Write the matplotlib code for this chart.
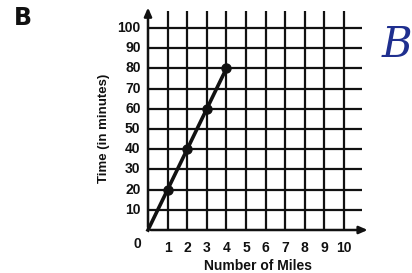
import matplotlib
matplotlib.use("Agg")
import matplotlib.pyplot as plt

miles = [0, 1, 2, 3, 4]
minutes = [0, 20, 40, 60, 80]
x_ticks = [1, 2, 3, 4, 5, 6, 7, 8, 9, 10]
y_ticks = [10, 20, 30, 40, 50, 60, 70, 80, 90, 100]

plt.rcParams['font.family'] = ['Liberation Sans', 'DejaVu Sans']

fig = plt.figure(figsize=(4.12, 2.73), dpi=100)
fig.patch.set_facecolor('white')
ax = fig.add_axes([148/412, 43/273, 11.4*19.6/412, 111*2.02/273])
ax.set_xlim(0, 11.4)
ax.set_ylim(0, 111)
for s in ax.spines.values():
    s.set_visible(False)
ax.set_xticks([])
ax.set_yticks([])

# grid
ax.vlines(x_ticks, 0, 108.5, color='#111111', lw=1.6, clip_on=False)
ax.hlines(y_ticks, 0, 10.9, color='#111111', lw=1.6, clip_on=False)

# axes arrows
ax.annotate('', xy=(0, 111.5), xytext=(0, 0),
            arrowprops=dict(arrowstyle='-|>,head_length=0.5,head_width=0.22', color='#111111', lw=1.8),
            annotation_clip=False)
ax.annotate('', xy=(11.35, 0), xytext=(0, 0),
            arrowprops=dict(arrowstyle='-|>,head_length=0.5,head_width=0.22', color='#111111', lw=1.8),
            annotation_clip=False)

# data
ax.plot(miles, minutes, color='#111111', lw=2.6, clip_on=False, zorder=5)
ax.plot(miles[1:], minutes[1:], 'o', color='#111111', ms=6.5, clip_on=False, zorder=6)

# tick labels
for v in x_ticks:
    ax.text(v, -5.5, str(v), ha='center', va='top', fontsize=10, fontweight='bold', color='#111111')
for v in y_ticks:
    ax.text(-0.38, v, str(v), ha='right', va='center', fontsize=10, fontweight='bold', color='#111111')
ax.text(-0.35, -3.5, '0', ha='right', va='top', fontsize=10, fontweight='bold', color='#111111')

fig.text(258/412, 1 - 266/273, 'Number of Miles', ha='center', va='center', fontsize=10, fontweight='bold', color='#111111')
fig.text(104/412, 1 - 128/273, 'Time (in minutes)', ha='center', va='center', rotation=90, fontsize=9.5, fontweight='bold', color='#111111')

fig.text(23/412, 1 - 18/273, 'B', ha='center', va='center', fontsize=17, fontweight='heavy', family='DejaVu Sans', color='#111111')
fig.text(397/412, 1 - 45/273, 'B', ha='center', va='center', fontsize=30, style='italic', family='DejaVu Serif', color='#1f2f8f')

fig.savefig('out.png', dpi=100, facecolor='white')
